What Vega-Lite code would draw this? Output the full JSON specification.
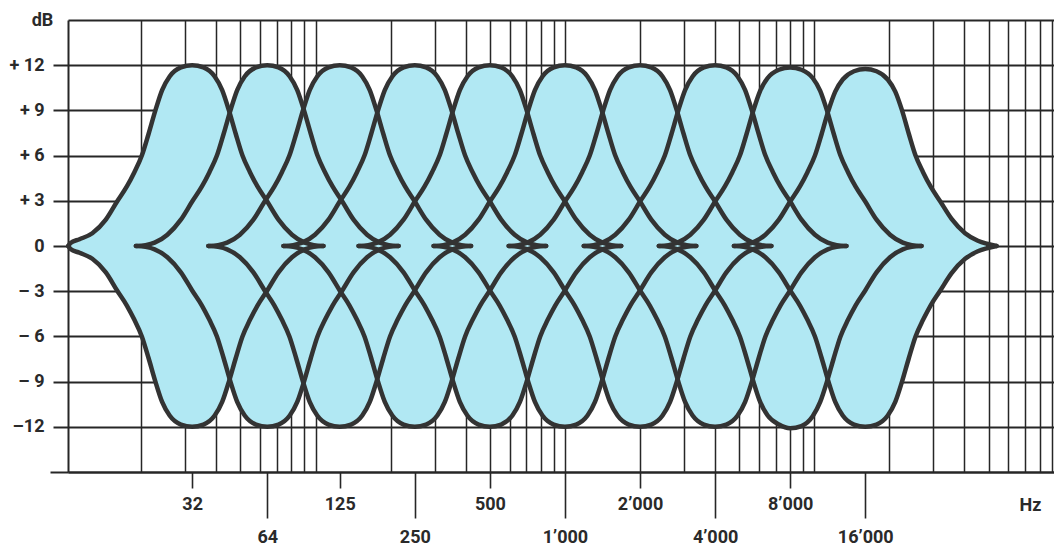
{
  "$schema": "https://vega.github.io/schema/vega-lite/v6.json",
  "width": 986,
  "height": 452,
  "autosize": {"type": "none"},
  "padding": {"left": 68, "top": 20, "right": 0, "bottom": 74},
  "background": "white",
  "config": {
    "view": {"stroke": null},
    "font": "Roboto, sans-serif",
    "axis": {
      "labelFont": "Roboto, sans-serif",
      "titleFont": "Roboto, sans-serif",
      "labelFontSize": 18,
      "labelFontWeight": "bold",
      "labelColor": "#2a2a2a",
      "titleFontSize": 18,
      "titleFontWeight": "bold",
      "titleColor": "#2a2a2a",
      "domainColor": "#262626",
      "domainWidth": 2,
      "tickColor": "#262626",
      "tickWidth": 1.6,
      "gridColor": "#262626",
      "gridOpacity": 1,
      "labelOverlap": false,
      "labelFlush": false,
      "labelBound": false,
      "zindex": 1
    }
  },
  "data": {
    "values": [
      {"b": 32, "f": 10.2, "u": 0, "l": 0},
      {"b": 32, "f": 10.41, "u": 0.2, "l": -0.2},
      {"b": 32, "f": 11.31, "u": 0.45, "l": -0.45},
      {"b": 32, "f": 12.73, "u": 0.85, "l": -0.85},
      {"b": 32, "f": 14.42, "u": 1.75, "l": -1.75},
      {"b": 32, "f": 16, "u": 2.95, "l": -2.95},
      {"b": 32, "f": 17.51, "u": 3.95, "l": -3.95},
      {"b": 32, "f": 18.77, "u": 4.9, "l": -4.9},
      {"b": 32, "f": 20.11, "u": 6.0, "l": -6.0},
      {"b": 32, "f": 21.41, "u": 7.45, "l": -7.45},
      {"b": 32, "f": 22.79, "u": 9.0, "l": -9.0},
      {"b": 32, "f": 24.25, "u": 10.35, "l": -10.35},
      {"b": 32, "f": 25.99, "u": 11.25, "l": -11.25},
      {"b": 32, "f": 28.84, "u": 11.85, "l": -11.85},
      {"b": 32, "f": 32, "u": 12, "l": -12},
      {"b": 32, "f": 35.51, "u": 11.85, "l": -11.85},
      {"b": 32, "f": 39.40, "u": 11.25, "l": -11.25},
      {"b": 32, "f": 42.22, "u": 10.35, "l": -10.35},
      {"b": 32, "f": 44.94, "u": 9.0, "l": -9.0},
      {"b": 32, "f": 47.84, "u": 7.45, "l": -7.45},
      {"b": 32, "f": 50.92, "u": 6.0, "l": -6.0},
      {"b": 32, "f": 54.57, "u": 4.9, "l": -4.9},
      {"b": 32, "f": 58.49, "u": 3.95, "l": -3.95},
      {"b": 32, "f": 64, "u": 2.95, "l": -2.95},
      {"b": 32, "f": 71.01, "u": 1.75, "l": -1.75},
      {"b": 32, "f": 80.45, "u": 0.75, "l": -0.75},
      {"b": 32, "f": 90.51, "u": 0.22, "l": -0.22},
      {"b": 32, "f": 98.36, "u": 0.06, "l": -0.06},
      {"b": 32, "f": 107.6, "u": 0, "l": 0},

      {"b": 64, "f": 19.03, "u": 0, "l": 0},
      {"b": 64, "f": 20.82, "u": 0.06, "l": -0.06},
      {"b": 64, "f": 22.63, "u": 0.22, "l": -0.22},
      {"b": 64, "f": 25.46, "u": 0.75, "l": -0.75},
      {"b": 64, "f": 28.84, "u": 1.75, "l": -1.75},
      {"b": 64, "f": 32, "u": 2.95, "l": -2.95},
      {"b": 64, "f": 35.02, "u": 3.95, "l": -3.95},
      {"b": 64, "f": 37.53, "u": 4.9, "l": -4.9},
      {"b": 64, "f": 40.22, "u": 6.0, "l": -6.0},
      {"b": 64, "f": 42.81, "u": 7.45, "l": -7.45},
      {"b": 64, "f": 45.57, "u": 9.0, "l": -9.0},
      {"b": 64, "f": 48.50, "u": 10.35, "l": -10.35},
      {"b": 64, "f": 51.98, "u": 11.25, "l": -11.25},
      {"b": 64, "f": 57.68, "u": 11.85, "l": -11.85},
      {"b": 64, "f": 64, "u": 12, "l": -12},
      {"b": 64, "f": 71.01, "u": 11.85, "l": -11.85},
      {"b": 64, "f": 78.79, "u": 11.25, "l": -11.25},
      {"b": 64, "f": 84.45, "u": 10.35, "l": -10.35},
      {"b": 64, "f": 89.88, "u": 9.0, "l": -9.0},
      {"b": 64, "f": 95.67, "u": 7.45, "l": -7.45},
      {"b": 64, "f": 101.8, "u": 6.0, "l": -6.0},
      {"b": 64, "f": 109.1, "u": 4.9, "l": -4.9},
      {"b": 64, "f": 117.0, "u": 3.95, "l": -3.95},
      {"b": 64, "f": 128, "u": 2.95, "l": -2.95},
      {"b": 64, "f": 142.0, "u": 1.75, "l": -1.75},
      {"b": 64, "f": 160.9, "u": 0.75, "l": -0.75},
      {"b": 64, "f": 181.0, "u": 0.22, "l": -0.22},
      {"b": 64, "f": 196.7, "u": 0.06, "l": -0.06},
      {"b": 64, "f": 215.3, "u": 0, "l": 0},

      {"b": 125, "f": 37.16, "u": 0, "l": 0},
      {"b": 125, "f": 40.67, "u": 0.06, "l": -0.06},
      {"b": 125, "f": 44.19, "u": 0.22, "l": -0.22},
      {"b": 125, "f": 49.72, "u": 0.75, "l": -0.75},
      {"b": 125, "f": 56.33, "u": 1.75, "l": -1.75},
      {"b": 125, "f": 62.5, "u": 2.95, "l": -2.95},
      {"b": 125, "f": 68.39, "u": 3.95, "l": -3.95},
      {"b": 125, "f": 73.30, "u": 4.9, "l": -4.9},
      {"b": 125, "f": 78.56, "u": 6.0, "l": -6.0},
      {"b": 125, "f": 83.62, "u": 7.45, "l": -7.45},
      {"b": 125, "f": 89.01, "u": 9.0, "l": -9.0},
      {"b": 125, "f": 94.73, "u": 10.35, "l": -10.35},
      {"b": 125, "f": 101.53, "u": 11.25, "l": -11.25},
      {"b": 125, "f": 112.66, "u": 11.85, "l": -11.85},
      {"b": 125, "f": 125, "u": 12, "l": -12},
      {"b": 125, "f": 138.70, "u": 11.85, "l": -11.85},
      {"b": 125, "f": 153.89, "u": 11.25, "l": -11.25},
      {"b": 125, "f": 164.94, "u": 10.35, "l": -10.35},
      {"b": 125, "f": 175.56, "u": 9.0, "l": -9.0},
      {"b": 125, "f": 186.86, "u": 7.45, "l": -7.45},
      {"b": 125, "f": 198.89, "u": 6.0, "l": -6.0},
      {"b": 125, "f": 213.16, "u": 4.9, "l": -4.9},
      {"b": 125, "f": 228.46, "u": 3.95, "l": -3.95},
      {"b": 125, "f": 250, "u": 2.95, "l": -2.95},
      {"b": 125, "f": 277.39, "u": 1.75, "l": -1.75},
      {"b": 125, "f": 314.25, "u": 0.75, "l": -0.75},
      {"b": 125, "f": 353.55, "u": 0.22, "l": -0.22},
      {"b": 125, "f": 384.22, "u": 0.06, "l": -0.06},
      {"b": 125, "f": 420.45, "u": 0, "l": 0},

      {"b": 250, "f": 74.33, "u": 0, "l": 0},
      {"b": 250, "f": 81.34, "u": 0.06, "l": -0.06},
      {"b": 250, "f": 88.39, "u": 0.22, "l": -0.22},
      {"b": 250, "f": 99.44, "u": 0.75, "l": -0.75},
      {"b": 250, "f": 112.7, "u": 1.75, "l": -1.75},
      {"b": 250, "f": 125, "u": 2.95, "l": -2.95},
      {"b": 250, "f": 136.8, "u": 3.95, "l": -3.95},
      {"b": 250, "f": 146.6, "u": 4.9, "l": -4.9},
      {"b": 250, "f": 157.1, "u": 6.0, "l": -6.0},
      {"b": 250, "f": 167.2, "u": 7.45, "l": -7.45},
      {"b": 250, "f": 178.0, "u": 9.0, "l": -9.0},
      {"b": 250, "f": 189.5, "u": 10.35, "l": -10.35},
      {"b": 250, "f": 203.1, "u": 11.25, "l": -11.25},
      {"b": 250, "f": 225.3, "u": 11.85, "l": -11.85},
      {"b": 250, "f": 250, "u": 12, "l": -12},
      {"b": 250, "f": 277.4, "u": 11.85, "l": -11.85},
      {"b": 250, "f": 307.8, "u": 11.25, "l": -11.25},
      {"b": 250, "f": 329.9, "u": 10.35, "l": -10.35},
      {"b": 250, "f": 351.1, "u": 9.0, "l": -9.0},
      {"b": 250, "f": 373.7, "u": 7.45, "l": -7.45},
      {"b": 250, "f": 397.8, "u": 6.0, "l": -6.0},
      {"b": 250, "f": 426.3, "u": 4.9, "l": -4.9},
      {"b": 250, "f": 456.9, "u": 3.95, "l": -3.95},
      {"b": 250, "f": 500, "u": 2.95, "l": -2.95},
      {"b": 250, "f": 554.8, "u": 1.75, "l": -1.75},
      {"b": 250, "f": 628.5, "u": 0.75, "l": -0.75},
      {"b": 250, "f": 707.1, "u": 0.22, "l": -0.22},
      {"b": 250, "f": 768.4, "u": 0.06, "l": -0.06},
      {"b": 250, "f": 840.9, "u": 0, "l": 0},

      {"b": 500, "f": 148.7, "u": 0, "l": 0},
      {"b": 500, "f": 162.7, "u": 0.06, "l": -0.06},
      {"b": 500, "f": 176.8, "u": 0.22, "l": -0.22},
      {"b": 500, "f": 198.9, "u": 0.75, "l": -0.75},
      {"b": 500, "f": 225.3, "u": 1.75, "l": -1.75},
      {"b": 500, "f": 250, "u": 2.95, "l": -2.95},
      {"b": 500, "f": 273.6, "u": 3.95, "l": -3.95},
      {"b": 500, "f": 293.2, "u": 4.9, "l": -4.9},
      {"b": 500, "f": 314.3, "u": 6.0, "l": -6.0},
      {"b": 500, "f": 334.5, "u": 7.45, "l": -7.45},
      {"b": 500, "f": 356.0, "u": 9.0, "l": -9.0},
      {"b": 500, "f": 378.9, "u": 10.35, "l": -10.35},
      {"b": 500, "f": 406.1, "u": 11.25, "l": -11.25},
      {"b": 500, "f": 450.6, "u": 11.85, "l": -11.85},
      {"b": 500, "f": 500, "u": 12, "l": -12},
      {"b": 500, "f": 554.8, "u": 11.85, "l": -11.85},
      {"b": 500, "f": 615.6, "u": 11.25, "l": -11.25},
      {"b": 500, "f": 659.8, "u": 10.35, "l": -10.35},
      {"b": 500, "f": 702.2, "u": 9.0, "l": -9.0},
      {"b": 500, "f": 747.4, "u": 7.45, "l": -7.45},
      {"b": 500, "f": 795.6, "u": 6.0, "l": -6.0},
      {"b": 500, "f": 852.7, "u": 4.9, "l": -4.9},
      {"b": 500, "f": 913.8, "u": 3.95, "l": -3.95},
      {"b": 500, "f": 1000, "u": 2.95, "l": -2.95},
      {"b": 500, "f": 1109.6, "u": 1.75, "l": -1.75},
      {"b": 500, "f": 1257.0, "u": 0.75, "l": -0.75},
      {"b": 500, "f": 1414.2, "u": 0.22, "l": -0.22},
      {"b": 500, "f": 1536.9, "u": 0.06, "l": -0.06},
      {"b": 500, "f": 1681.8, "u": 0, "l": 0},

      {"b": 1000, "f": 297.3, "u": 0, "l": 0},
      {"b": 1000, "f": 325.3, "u": 0.06, "l": -0.06},
      {"b": 1000, "f": 353.6, "u": 0.22, "l": -0.22},
      {"b": 1000, "f": 397.8, "u": 0.75, "l": -0.75},
      {"b": 1000, "f": 450.6, "u": 1.75, "l": -1.75},
      {"b": 1000, "f": 500, "u": 2.95, "l": -2.95},
      {"b": 1000, "f": 547.2, "u": 3.95, "l": -3.95},
      {"b": 1000, "f": 586.4, "u": 4.9, "l": -4.9},
      {"b": 1000, "f": 628.5, "u": 6.0, "l": -6.0},
      {"b": 1000, "f": 669.0, "u": 7.45, "l": -7.45},
      {"b": 1000, "f": 712.0, "u": 9.0, "l": -9.0},
      {"b": 1000, "f": 757.9, "u": 10.35, "l": -10.35},
      {"b": 1000, "f": 812.3, "u": 11.25, "l": -11.25},
      {"b": 1000, "f": 901.3, "u": 11.85, "l": -11.85},
      {"b": 1000, "f": 1000, "u": 12, "l": -12},
      {"b": 1000, "f": 1109.6, "u": 11.85, "l": -11.85},
      {"b": 1000, "f": 1231.1, "u": 11.25, "l": -11.25},
      {"b": 1000, "f": 1319.5, "u": 10.35, "l": -10.35},
      {"b": 1000, "f": 1404.4, "u": 9.0, "l": -9.0},
      {"b": 1000, "f": 1494.9, "u": 7.45, "l": -7.45},
      {"b": 1000, "f": 1591.1, "u": 6.0, "l": -6.0},
      {"b": 1000, "f": 1705.3, "u": 4.9, "l": -4.9},
      {"b": 1000, "f": 1827.7, "u": 3.95, "l": -3.95},
      {"b": 1000, "f": 2000, "u": 2.95, "l": -2.95},
      {"b": 1000, "f": 2219.1, "u": 1.75, "l": -1.75},
      {"b": 1000, "f": 2514.0, "u": 0.75, "l": -0.75},
      {"b": 1000, "f": 2828.4, "u": 0.22, "l": -0.22},
      {"b": 1000, "f": 3073.8, "u": 0.06, "l": -0.06},
      {"b": 1000, "f": 3363.6, "u": 0, "l": 0},

      {"b": 2000, "f": 594.6, "u": 0, "l": 0},
      {"b": 2000, "f": 650.7, "u": 0.06, "l": -0.06},
      {"b": 2000, "f": 707.1, "u": 0.22, "l": -0.22},
      {"b": 2000, "f": 795.5, "u": 0.75, "l": -0.75},
      {"b": 2000, "f": 901.2, "u": 1.75, "l": -1.75},
      {"b": 2000, "f": 1000, "u": 2.95, "l": -2.95},
      {"b": 2000, "f": 1094.3, "u": 3.95, "l": -3.95},
      {"b": 2000, "f": 1172.8, "u": 4.9, "l": -4.9},
      {"b": 2000, "f": 1257.0, "u": 6.0, "l": -6.0},
      {"b": 2000, "f": 1337.9, "u": 7.45, "l": -7.45},
      {"b": 2000, "f": 1424.1, "u": 9.0, "l": -9.0},
      {"b": 2000, "f": 1515.7, "u": 10.35, "l": -10.35},
      {"b": 2000, "f": 1624.5, "u": 11.25, "l": -11.25},
      {"b": 2000, "f": 1802.5, "u": 11.85, "l": -11.85},
      {"b": 2000, "f": 2000, "u": 12, "l": -12},
      {"b": 2000, "f": 2219.1, "u": 11.85, "l": -11.85},
      {"b": 2000, "f": 2462.3, "u": 11.25, "l": -11.25},
      {"b": 2000, "f": 2639.0, "u": 10.35, "l": -10.35},
      {"b": 2000, "f": 2808.9, "u": 9.0, "l": -9.0},
      {"b": 2000, "f": 2989.7, "u": 7.45, "l": -7.45},
      {"b": 2000, "f": 3182.2, "u": 6.0, "l": -6.0},
      {"b": 2000, "f": 3410.6, "u": 4.9, "l": -4.9},
      {"b": 2000, "f": 3655.3, "u": 3.95, "l": -3.95},
      {"b": 2000, "f": 4000, "u": 2.95, "l": -2.95},
      {"b": 2000, "f": 4438.3, "u": 1.75, "l": -1.75},
      {"b": 2000, "f": 5028.0, "u": 0.75, "l": -0.75},
      {"b": 2000, "f": 5656.9, "u": 0.22, "l": -0.22},
      {"b": 2000, "f": 6147.5, "u": 0.06, "l": -0.06},
      {"b": 2000, "f": 6727.2, "u": 0, "l": 0},

      {"b": 4000, "f": 1189.2, "u": 0, "l": 0},
      {"b": 4000, "f": 1301.4, "u": 0.06, "l": -0.06},
      {"b": 4000, "f": 1414.2, "u": 0.22, "l": -0.22},
      {"b": 4000, "f": 1591.1, "u": 0.75, "l": -0.75},
      {"b": 4000, "f": 1802.5, "u": 1.75, "l": -1.75},
      {"b": 4000, "f": 2000, "u": 2.95, "l": -2.95},
      {"b": 4000, "f": 2188.6, "u": 3.95, "l": -3.95},
      {"b": 4000, "f": 2345.6, "u": 4.9, "l": -4.9},
      {"b": 4000, "f": 2514.0, "u": 6.0, "l": -6.0},
      {"b": 4000, "f": 2675.8, "u": 7.45, "l": -7.45},
      {"b": 4000, "f": 2848.2, "u": 9.0, "l": -9.0},
      {"b": 4000, "f": 3031.4, "u": 10.35, "l": -10.35},
      {"b": 4000, "f": 3249.0, "u": 11.25, "l": -11.25},
      {"b": 4000, "f": 3605.0, "u": 11.85, "l": -11.85},
      {"b": 4000, "f": 4000, "u": 12, "l": -12},
      {"b": 4000, "f": 4438.3, "u": 11.85, "l": -11.85},
      {"b": 4000, "f": 4924.6, "u": 11.25, "l": -11.25},
      {"b": 4000, "f": 5278.0, "u": 10.35, "l": -10.35},
      {"b": 4000, "f": 5617.8, "u": 9.0, "l": -9.0},
      {"b": 4000, "f": 5979.4, "u": 7.45, "l": -7.45},
      {"b": 4000, "f": 6364.4, "u": 6.0, "l": -6.0},
      {"b": 4000, "f": 6821.2, "u": 4.9, "l": -4.9},
      {"b": 4000, "f": 7310.6, "u": 3.95, "l": -3.95},
      {"b": 4000, "f": 8000, "u": 2.95, "l": -2.95},
      {"b": 4000, "f": 8876.6, "u": 1.75, "l": -1.75},
      {"b": 4000, "f": 10056, "u": 0.75, "l": -0.75},
      {"b": 4000, "f": 11314, "u": 0.22, "l": -0.22},
      {"b": 4000, "f": 12295, "u": 0.06, "l": -0.06},
      {"b": 4000, "f": 13454, "u": 0, "l": 0},

      {"b": 8000, "f": 2378, "u": 0, "l": 0},
      {"b": 8000, "f": 2603, "u": 0.06, "l": -0.06},
      {"b": 8000, "f": 2828, "u": 0.22, "l": -0.22},
      {"b": 8000, "f": 3182, "u": 0.75, "l": -0.75},
      {"b": 8000, "f": 3605, "u": 1.75, "l": -1.75},
      {"b": 8000, "f": 4000, "u": 2.95, "l": -2.95},
      {"b": 8000, "f": 4377, "u": 3.95, "l": -3.95},
      {"b": 8000, "f": 4691, "u": 4.9, "l": -4.9},
      {"b": 8000, "f": 5028, "u": 6.0, "l": -6.0},
      {"b": 8000, "f": 5352, "u": 7.45, "l": -7.45},
      {"b": 8000, "f": 5696, "u": 9.0, "l": -9.0},
      {"b": 8000, "f": 6063, "u": 10.3, "l": -10.35},
      {"b": 8000, "f": 6498, "u": 11.15, "l": -11.25},
      {"b": 8000, "f": 7210, "u": 11.7, "l": -11.85},
      {"b": 8000, "f": 8000, "u": 11.85, "l": -12.1},
      {"b": 8000, "f": 8877, "u": 11.7, "l": -11.95},
      {"b": 8000, "f": 9849, "u": 11.15, "l": -11.3},
      {"b": 8000, "f": 10556, "u": 10.3, "l": -10.35},
      {"b": 8000, "f": 11236, "u": 9.0, "l": -9.0},
      {"b": 8000, "f": 11959, "u": 7.45, "l": -7.45},
      {"b": 8000, "f": 12729, "u": 6.0, "l": -6.0},
      {"b": 8000, "f": 13642, "u": 4.9, "l": -4.9},
      {"b": 8000, "f": 14621, "u": 3.95, "l": -3.95},
      {"b": 8000, "f": 16000, "u": 2.95, "l": -2.95},
      {"b": 8000, "f": 17753, "u": 1.75, "l": -1.75},
      {"b": 8000, "f": 20112, "u": 0.75, "l": -0.75},
      {"b": 8000, "f": 22627, "u": 0.22, "l": -0.22},
      {"b": 8000, "f": 24590, "u": 0.06, "l": -0.06},
      {"b": 8000, "f": 26909, "u": 0, "l": 0},

      {"b": 16000, "f": 4757, "u": 0, "l": 0},
      {"b": 16000, "f": 5205, "u": 0.06, "l": -0.06},
      {"b": 16000, "f": 5657, "u": 0.22, "l": -0.22},
      {"b": 16000, "f": 6364, "u": 0.75, "l": -0.75},
      {"b": 16000, "f": 7210, "u": 1.75, "l": -1.75},
      {"b": 16000, "f": 8000, "u": 2.95, "l": -2.95},
      {"b": 16000, "f": 8754, "u": 3.95, "l": -3.95},
      {"b": 16000, "f": 9383, "u": 4.9, "l": -4.9},
      {"b": 16000, "f": 10056, "u": 6.0, "l": -6.0},
      {"b": 16000, "f": 10703, "u": 7.45, "l": -7.45},
      {"b": 16000, "f": 11393, "u": 9.0, "l": -9.0},
      {"b": 16000, "f": 12126, "u": 10.25, "l": -10.35},
      {"b": 16000, "f": 12996, "u": 11.05, "l": -11.25},
      {"b": 16000, "f": 14420, "u": 11.6, "l": -11.85},
      {"b": 16000, "f": 16000, "u": 11.75, "l": -12},
      {"b": 16000, "f": 17753, "u": 11.6, "l": -11.85},
      {"b": 16000, "f": 19698, "u": 11.05, "l": -11.25},
      {"b": 16000, "f": 21112, "u": 10.25, "l": -10.35},
      {"b": 16000, "f": 22471, "u": 9.0, "l": -9.0},
      {"b": 16000, "f": 23918, "u": 7.45, "l": -7.45},
      {"b": 16000, "f": 25458, "u": 6.0, "l": -6.0},
      {"b": 16000, "f": 27285, "u": 4.9, "l": -4.9},
      {"b": 16000, "f": 29243, "u": 3.95, "l": -3.95},
      {"b": 16000, "f": 32000, "u": 2.95, "l": -2.95},
      {"b": 16000, "f": 35506, "u": 1.8, "l": -1.8},
      {"b": 16000, "f": 40224, "u": 0.85, "l": -0.85},
      {"b": 16000, "f": 45255, "u": 0.35, "l": -0.35},
      {"b": 16000, "f": 49180, "u": 0.15, "l": -0.15},
      {"b": 16000, "f": 53817, "u": 0, "l": 0}
    ]
  },
  "encoding": {
    "x": {
      "field": "f",
      "type": "quantitative",
      "scale": {"type": "log", "domain": [10.17, 91400], "nice": false, "zero": false},
      "axis": {
        "title": "Hz",
        "titleX": 962,
        "titleY": 33,
        "titleAlign": "center",
        "titleBaseline": "middle",
        "titleAnchor": null,
        "values": [20, 30, 32, 40, 50, 60, 64, 70, 80, 90, 100, 125, 200, 250, 300, 400, 500, 600, 700, 800, 900, 1000, 2000, 3000, 4000, 5000, 6000, 7000, 8000, 9000, 10000, 16000, 20000, 30000, 40000, 50000, 60000, 70000, 80000, 90000],
        "grid": true,
        "gridWidth": 1.5,
        "gridOpacity": {"condition": {"test": "indexof([32,64,125,250,16000], datum.value) >= 0", "value": 0}, "value": 1},
        "tickOpacity": {"condition": {"test": "indexof([32,64,125,250,500,1000,2000,4000,8000,16000], datum.value) >= 0", "value": 1}, "value": 0},
        "tickSize": {"condition": {"test": "indexof([64,250,1000,4000,16000], datum.value) >= 0", "value": 46}, "value": 16},
        "labelPadding": {"condition": {"test": "indexof([64,250,1000,4000,16000], datum.value) >= 0", "value": 10}, "value": 7},
        "labelExpr": "indexof([32,64,125,250,500,1000,2000,4000,8000,16000], datum.value) < 0 ? '' : (datum.value >= 1000 ? floor(datum.value / 1000) + '’000' : '' + datum.value)"
      }
    }
  },
  "layer": [
    {
      "mark": {"type": "area", "interpolate": "monotone", "color": "#b1e8f3", "opacity": 1},
      "encoding": {
        "detail": {"field": "b", "type": "nominal"},
        "y": {
          "field": "u",
          "type": "quantitative",
          "scale": {"domain": [-15, 15], "nice": false, "zero": false},
          "axis": {
            "title": "dB",
            "titleAngle": 0,
            "titleX": -26,
            "titleY": 0,
            "titleAlign": "center",
            "titleBaseline": "middle",
            "titleAnchor": null,
            "values": [-15, -12, -9, -6, -3, 0, 3, 6, 9, 12, 15],
            "grid": true,
            "gridWidth": 2,
            "tickSize": {"condition": {"test": "datum.value == -15", "value": 18}, "value": 15},
            "tickWidth": 2,
            "tickOpacity": {"condition": {"test": "datum.value == 15", "value": 0}, "value": 1},
            "labelPadding": 9,
            "labelExpr": "datum.value == 0 ? '0' : datum.value == -12 ? '–12' : (datum.value > 0 && datum.value < 15) ? '+ ' + datum.value : (datum.value < 0 && datum.value > -15) ? '– ' + abs(datum.value) : ''"
          }
        },
        "y2": {"field": "l"}
      }
    },
    {
      "mark": {"type": "line", "interpolate": "monotone", "color": "#333333", "strokeWidth": 4.5, "strokeCap": "round", "strokeJoin": "round"},
      "encoding": {
        "detail": {"field": "b", "type": "nominal"},
        "y": {"field": "u", "type": "quantitative"}
      }
    },
    {
      "mark": {"type": "line", "interpolate": "monotone", "color": "#333333", "strokeWidth": 4.5, "strokeCap": "round", "strokeJoin": "round"},
      "encoding": {
        "detail": {"field": "b", "type": "nominal"},
        "y": {"field": "l", "type": "quantitative"}
      }
    }
  ]
}
